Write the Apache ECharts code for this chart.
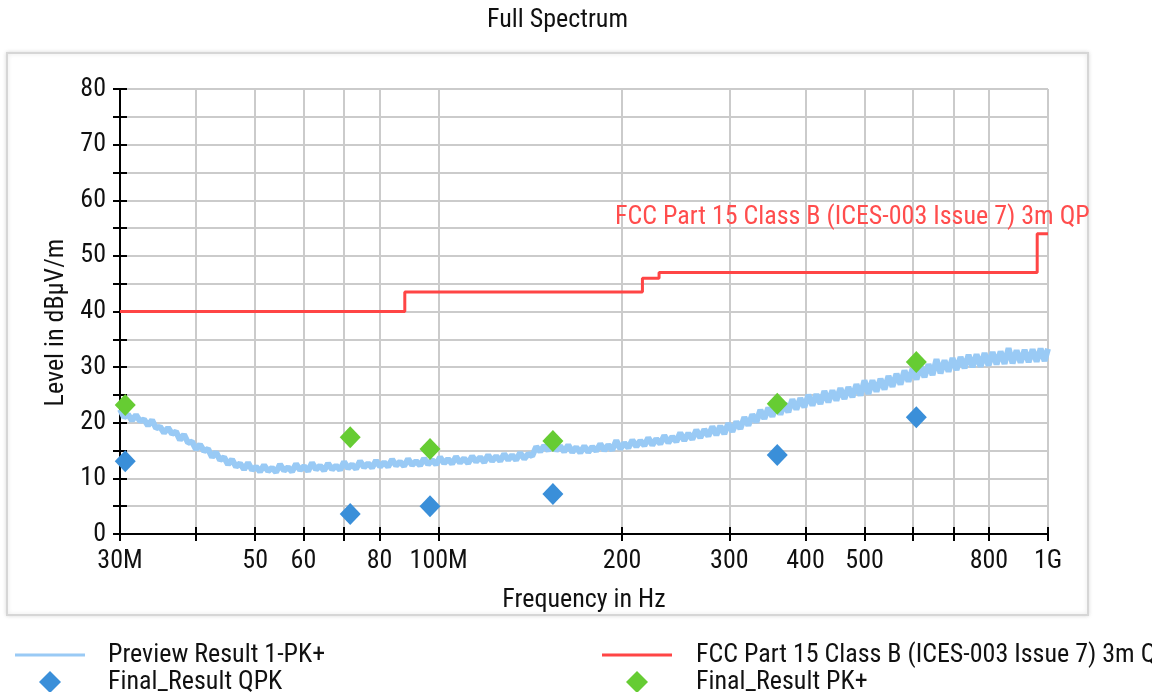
<!DOCTYPE html>
<html>
<head>
<meta charset="utf-8">
<script src="https://cdn.jsdelivr.net/npm/echarts@6/dist/echarts.min.js"></script>
<style>html,body{margin:0;padding:0;background:#fff}#c{width:1152px;height:692px}</style>
</head>
<body>
<div id="c"></div>
<script>
// ---- data ----
const traceFreqs = [30,30.46,30.92,31.39,31.87,32.36,32.85,33.35,33.86,34.38,34.9,35.43,35.97,36.52,37.07,37.63,38.21,38.79,39.38,39.98,40.59,41.21,41.84,42.48,43.12,43.78,44.45,45.13,45.81,46.51,47.22,47.94,48.67,49.41,50.16,50.92,51.7,52.49,53.29,54.1,54.92,55.76,56.61,57.47,58.35,59.24,60.14,61.06,61.98,62.92,63.89,64.86,65.85,66.85,67.87,68.9,69.95,71.02,72.1,73.2,74.31,75.44,76.59,77.76,78.95,80.15,81.37,82.61,83.87,85.15,86.44,87.76,89.1,90.46,91.83,93.23,94.65,96.09,97.56,99.05,100.55,102.1,103.6,105.2,106.8,108.4,110.1,111.8,113.5,115.2,117,118.8,120.6,122.4,124.3,126.2,128.1,130.1,132,134,136.1,138.2,140.3,142.4,144.6,146.8,149,151.3,153.6,155.9,158.3,160.7,163.2,165.7,168.2,170.8,173.4,176,178.7,181.4,184.2,187,189.8,192.7,195.7,198.7,201.7,204.8,207.9,211.1,214.3,217.6,220.8,224.2,227.6,231.1,234.6,238.2,241.8,245.5,249.2,253,256.9,260.8,264.8,268.8,272.9,277.1,281.3,285.6,289.9,294.3,298.8,303.4,308,312.7,317.5,322.3,327.2,332.2,337.3,342.4,347.6,352.9,358.3,363.8,369.3,374.9,380.6,386.4,392.3,398.3,404.4,410.6,416.8,423.2,429.6,436.1,442.8,449.5,456.4,463.4,470.4,477.6,484.9,492.3,499.8,507.4,515.1,523,531,539.1,547.3,555.6,564.1,572.7,581.4,590.3,599.3,608.4,617.7,627.1,636.7,646.4,656.2,666.2,676.4,686.7,697.2,707.8,718.6,729.6,740.7,752,763.4,775,786.9,798.9,811,823.4,835.9,848.6,861.6,874.7,888.1,901.6,915.4,929.4,943.5,957.9,972.5,987.3,1000];
const traceLevels = [22.4,21.0,21.5,20.4,21.4,20.3,20.6,19.5,20.5,19.0,19.3,18.2,19.1,18.0,18.4,16.9,17.9,16.4,16.6,15.2,16.1,14.9,15.3,13.8,14.7,13.3,13.8,12.5,13.4,12.1,12.7,11.6,12.8,11.5,12.1,11.2,12.4,11.3,11.9,11.1,12.5,11.4,12.0,11.2,12.6,11.5,12.2,11.3,12.8,11.6,12.3,11.4,12.7,11.6,12.3,11.5,13.0,11.8,12.5,11.7,13.1,12.0,12.7,11.9,13.2,12.1,12.9,12.1,13.4,12.3,13.0,12.2,13.5,12.4,13.1,12.3,13.6,12.5,13.3,12.5,13.8,12.7,13.5,12.6,13.9,12.8,13.6,12.7,14.0,13.0,13.8,12.9,14.2,13.1,14.0,13.1,14.4,13.3,14.2,13.3,14.6,13.5,14.4,14.0,15.7,14.8,15.9,15.0,16.3,15.0,15.8,14.8,16.0,14.7,15.6,14.6,15.8,14.7,15.7,14.9,16.2,15.0,16.0,15.1,16.8,15.3,16.4,15.5,16.9,15.7,16.8,15.9,17.3,16.0,17.1,16.2,17.7,16.4,17.5,16.6,18.2,16.8,18.1,17.0,18.7,17.3,18.8,17.6,19.3,17.8,19.4,18.0,19.9,18.4,20.2,18.9,21.0,19.5,21.5,20.1,22.3,20.7,22.7,21.1,23.2,21.5,23.5,21.9,24.2,22.4,24.4,22.8,25.0,23.1,25.1,23.4,25.7,23.7,25.8,24.0,26.2,24.3,26.4,24.6,26.9,24.9,27.6,25.2,27.6,25.6,27.9,26.0,28.4,26.5,28.8,26.9,29.4,27.4,29.7,27.8,30.2,28.2,30.5,28.6,31.4,28.9,31.2,29.2,31.6,29.5,31.8,29.8,32.2,30.0,32.3,30.1,32.5,30.3,32.7,30.5,32.8,30.6,33.4,30.7,33.0,30.8,33.1,30.9,33.2,31.0,33.3,31.1,33.3];
const limitFreqs = [30,88,88,216,216,230,230,960,960,1000];
const limitLevels = [40,40,43.5,43.5,46,46,47,47,54,54];
const finalFreqs = [30.6,71.6,96.8,154,359.5,608];
const qpkLevels = [13.1,3.6,5.0,7.2,14.2,21.0];
const pkLevels = [23.2,17.4,15.3,16.7,23.4,30.9];
const tickFreqs = [30,40,50,60,70,80,100,200,300,400,500,600,700,800,1000];
const labelFreqs = [30,50,60,80,100,200,300,400,500,800,1000];
const labelTexts = ['30M','50','60','80','100M','200','300','400','500','800','1G'];
const yTicks = [0,10,20,30,40,50,60,70,80];

const NAMES = {
  trace: 'Preview Result 1-PK+',
  limit: 'FCC Part 15 Class B (ICES-003 Issue 7) 3m QP',
  qpk: 'Final_Result QPK',
  pk: 'Final_Result PK+'
};
const FONT = "'Liberation Sans Narrow','Roboto Condensed','Noto Sans Condensed','DejaVu Sans Condensed','Arial Narrow',sans-serif";
const TXT = '#111';
const FS = 26;

const lg = f => Math.log10(f);
const pairs = (fs, vs) => fs.map((f, i) => [lg(f), vs[i]]);

const chart = echarts.init(document.getElementById('c'), null, {renderer: 'canvas'});

const xBase = {type: 'value', min: lg(30), max: lg(1000)};
const lgText = pad => ({fontFamily: FONT, fontSize: FS, color: TXT, padding: [0, 0, 0, pad]});

chart.setOption({
  animation: false,
  backgroundColor: '#fff',
  title: {
    text: 'Full Spectrum', left: 482, top: 2,
    textStyle: {fontFamily: FONT, fontSize: FS, fontWeight: 'normal', color: TXT}
  },
  graphic: [
    {type: 'rect', z: -10, shape: {x: 7, y: 53, width: 1081, height: 562},
     style: {fill: '#fff', stroke: '#d6d6d6', lineWidth: 2, shadowBlur: 4, shadowColor: 'rgba(0,0,0,0.12)'}},
    {type: 'text', left: 615, top: 204, z: 10,
     style: {text: NAMES.limit, fill: '#ff4d4d', font: FS + 'px ' + FONT}}
  ],
  legend: [
    {left: 10, top: 637, itemWidth: 70, itemHeight: 3, selectedMode: false,
     data: [{name: NAMES.trace, icon: 'rect'}], textStyle: lgText(18)},
    {left: 34, top: 664, itemWidth: 22, itemHeight: 22, selectedMode: false,
     data: [{name: NAMES.qpk, icon: 'diamond'}], textStyle: lgText(42)},
    {left: 597, top: 637, itemWidth: 70, itemHeight: 3, selectedMode: false,
     data: [{name: NAMES.limit, icon: 'rect'}], textStyle: lgText(19)},
    {left: 621, top: 664, itemWidth: 22, itemHeight: 22, selectedMode: false,
     data: [{name: NAMES.pk, icon: 'diamond'}], textStyle: lgText(43)}
  ],
  grid: {left: 120, right: 104, top: 89, bottom: 158, outerBoundsMode: 'none', containLabel: false},
  xAxis: [
    Object.assign({}, xBase, {
      name: 'Frequency in Hz', nameLocation: 'middle', nameGap: 53,
      nameTextStyle: {fontFamily: FONT, fontSize: FS, color: TXT},
      axisLine: {show: true, onZero: false, lineStyle: {color: '#000', width: 2}},
      axisTick: {show: true, inside: false, length: 7, lineStyle: {color: '#000', width: 2}, customValues: tickFreqs.map(lg)},
      axisLabel: {show: true, margin: 14, fontFamily: FONT, fontSize: FS, color: TXT,
        customValues: labelFreqs.map(lg),
        formatter: v => { let best = 0, bd = 1e9; labelFreqs.forEach((f, i) => { const d = Math.abs(lg(f) - v); if (d < bd) { bd = d; best = i; } }); return labelTexts[best]; }},
      splitLine: {show: true, lineStyle: {color: '#cbcbcb', width: 2}}
    }),
    Object.assign({}, xBase, {
      position: 'bottom',
      axisLine: {show: false},
      axisTick: {show: true, inside: true, length: 7, lineStyle: {color: '#000', width: 2}, customValues: tickFreqs.map(lg)},
      axisLabel: {show: false}, splitLine: {show: false}
    })
  ],
  yAxis: [
    {
      type: 'value', min: 0, max: 80, interval: 5,
      name: 'Level in dB\u00b5V/m', nameLocation: 'middle', nameGap: 43,
      nameTextStyle: {fontFamily: FONT, fontSize: FS, color: TXT, padding: [0, 22, 0, 0]},
      axisLine: {show: true, lineStyle: {color: '#000', width: 2}},
      axisTick: {show: true, inside: false, length: 7, lineStyle: {color: '#000', width: 2}},
      axisLabel: {margin: 14, fontFamily: FONT, fontSize: FS, color: TXT, customValues: yTicks},
      splitLine: {show: true, lineStyle: {color: '#cbcbcb', width: 2}}
    },
    {
      type: 'value', min: 0, max: 80, interval: 5, position: 'left',
      axisLine: {show: false},
      axisTick: {show: true, inside: true, length: 7, lineStyle: {color: '#000', width: 2}},
      axisLabel: {show: false}, splitLine: {show: false}
    }
  ],
  series: [
    {
      name: NAMES.trace, type: 'line', data: pairs(traceFreqs, traceLevels),
      symbol: 'none', color: '#99caf5', lineStyle: {color: '#99caf5', width: 6}, z: 2
    },
    {
      name: NAMES.limit, type: 'line', data: pairs(limitFreqs, limitLevels),
      symbol: 'none', color: '#ff4545', lineStyle: {color: '#ff4545', width: 3}, z: 3
    },
    {
      name: NAMES.qpk, type: 'scatter', data: pairs(finalFreqs, qpkLevels),
      symbol: 'diamond', symbolSize: [21, 22], color: '#3a8fd9', itemStyle: {color: '#3a8fd9', opacity: 1}, z: 4
    },
    {
      name: NAMES.pk, type: 'scatter', data: pairs(finalFreqs, pkLevels),
      symbol: 'diamond', symbolSize: [21, 22], color: '#66cc33', itemStyle: {color: '#66cc33', opacity: 1}, z: 4
    }
  ]
});
</script>
</body>
</html>
